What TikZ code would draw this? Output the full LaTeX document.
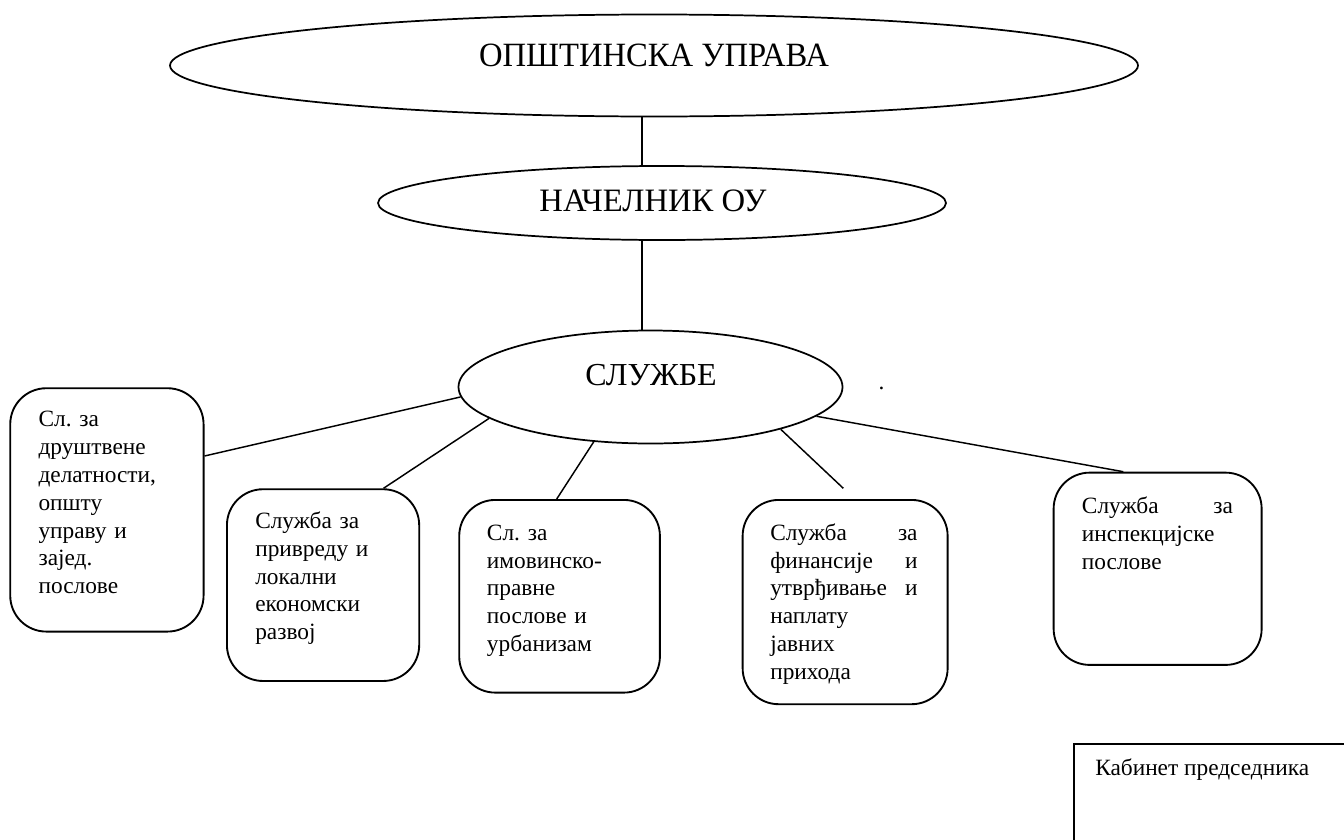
\documentclass[tikz,border=0pt]{standalone}
\usepackage{fontspec}
\setmainfont{Liberation Serif}
\usetikzlibrary{shapes.geometric,calc}
\tikzset{
  oval/.style={ellipse, draw, line width=1.3pt, inner sep=0pt},
  conn/.style={line width=1.1pt},
  vline/.style={line width=0.9pt},
  rbox/.style={draw, rounded corners=27pt, line width=1.4pt, inner sep=0pt, anchor=north west},
  sbox/.style={draw, line width=1.4pt, inner sep=0pt, anchor=north west},
  btext/.style={anchor=north west, inner sep=0pt, align=left, font=\fontsize{17.5}{20.85}\selectfont\frenchspacing},
  ttext/.style={anchor=base, inner sep=0pt}
}
\begin{document}
\frenchspacing
\begin{tikzpicture}[x=0.75pt,y=-0.75pt]
\useasboundingbox (0,0) rectangle (1344,839);
\clip (0,0) rectangle (1344,839);
\fill[white] (0,0) rectangle (1344,839);

% ellipses
\node[oval, minimum width=726pt, minimum height=76.5pt] (top) at (654,65.5) {};
\node[ttext, font=\fontsize{25.5}{30}\selectfont] (toptext) at (654,66) {\scalebox{0.96}[1]{ОПШТИНСКА УПРАВА}};

\node[oval, minimum width=426pt, minimum height=55.5pt] (nach) at (662,203) {};
\node[ttext, font=\fontsize{24.5}{29}\selectfont] (nachtext) at (653,211.7) {НАЧЕЛНИК ОУ};

\node[oval, minimum width=288pt, minimum height=84.75pt] (sl) at (650.5,387) {};
\node[ttext, font=\fontsize{24}{29}\selectfont] (sltext) at (651,385) {СЛУЖБЕ};

\node[ttext, font=\fontsize{17.5}{20.85}\selectfont] (dot) at (881.5,389) {.};

\draw[vline] ($(top.south)+(-12,0)$) -- ($(nach.north)+(-20,0)$);
\draw[vline] ($(nach.south)+(-20,0)$) -- ($(sl.north)+(-8.5,0)$);

% boxes
\node[rbox, minimum width=145pt, minimum height=182.5pt] (b1) at (9.3,387.3) {};
\node[btext, text width=105pt] (t1) at ($(b1.north west)+(29,19.9)$)
  {\strut Сл. за\\ друштвене\\ делатности,\\ општу\\ управу и\\ зајед.\\ послове};

\node[rbox, minimum width=144.2pt, minimum height=143.8pt] (b2) at (226,488.3) {};
\node[btext, text width=105pt] (t2) at ($(b2.north west)+(29,20.5)$)
  {\strut Служба за\\ привреду и\\ локални\\ економски\\ развој};

\node[rbox, minimum width=150.5pt, minimum height=144.5pt] (b3) at (458.3,499) {};
\node[btext, text width=110pt] (t3) at ($(b3.north west)+(28.4,21.5)$)
  {\strut Сл. за\\ имовинско-\\ правне\\ послове и\\ урбанизам};

\node[rbox, minimum width=153.75pt, minimum height=153.2pt] (b4) at (741.7,499) {};
\node[btext, text width=110.5pt] (t4) at ($(b4.north west)+(28.3,21.5)$)
  {\strut Служба\hfill за\\ финансије\hfill и\\ утврђивање\hfill и\\ наплату\\ јавних\\ прихода};

\node[rbox, minimum width=156pt, minimum height=144.2pt] (b5) at (1052.7,471.7) {};
\node[btext, text width=113.25pt] (t5) at ($(b5.north west)+(29,22.1)$)
  {\strut Служба\hfill за\\ инспекцијске\\ послове};

\node[sbox, minimum width=225pt, minimum height=90pt] (kab) at (1073.3,742.7) {};
\node[anchor=base west, inner sep=0pt, font=\fontsize{17.5}{20.85}\selectfont] (kabtext)
  at ($(kab.north west)+(21.7,32.3)$) {Кабинет председника};

% connectors
\draw[conn] (sl.183.7) -- ($(b1.north east)+(0,68.7)$);
\draw[conn] (sl.191) -- ($(b2.north east)+(-36.6,0)$);
\draw[conn] (sl.224.2) -- ($(b3.north west)+(98.4,0)$);
\coordinate (l4) at ($(b4.north west)+(101.6,-10.7)$);
\draw[conn] (sl.342.3) -- (l4);
\draw[conn] (sl.350.6) -- ($(b5.north west)+(70.6,0)$);
\end{tikzpicture}
\end{document}
